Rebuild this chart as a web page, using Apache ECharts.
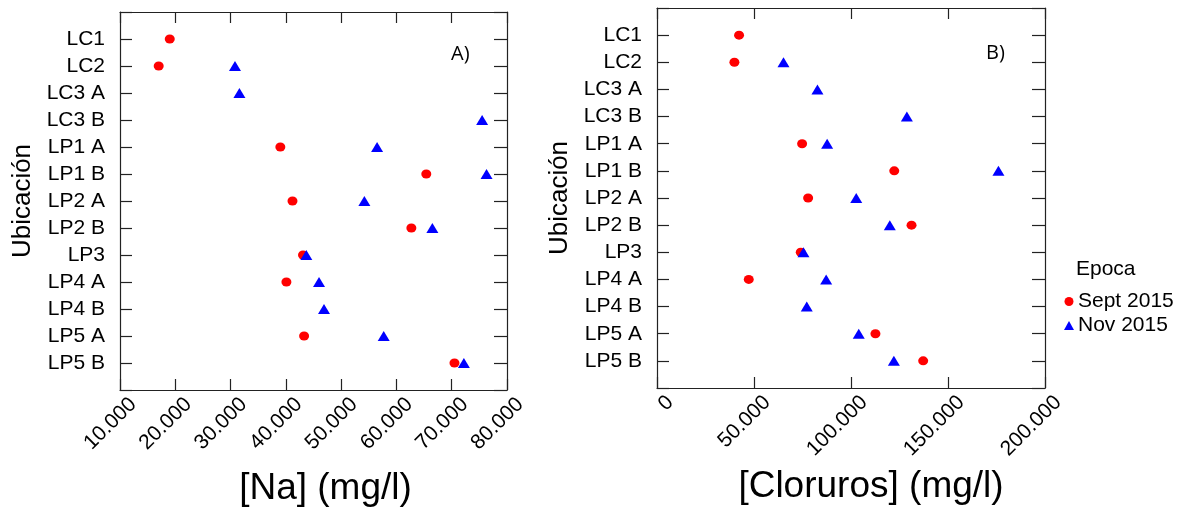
<!DOCTYPE html>
<html>
<head>
<meta charset="utf-8">
<script src="https://cdn.jsdelivr.net/npm/echarts@6/dist/echarts.min.js"></script>
<style>
html,body{margin:0;padding:0;background:#fff;}
#chart{width:1195px;height:516px;}
</style>
</head>
<body>
<div id="chart"></div>
<script>
const categories = ['LC1','LC2','LC3 A','LC3 B','LP1 A','LP1 B','LP2 A','LP2 B','LP3','LP4 A','LP4 B','LP5 A','LP5 B'];
const naSept = [19000, 17000, null, null, 39000, 65400, 41200, 62700, 43100, 40100, null, 43300, 70500];
const naNov  = [null, 30800, 31600, 75500, 56500, 76300, 54200, 66500, 43700, 46000, 46900, 57700, 72200];
const clSept = [42300, 39900, null, null, 74800, 122300, 77900, 131200, 74100, 47300, null, 112600, 137200];
const clNov  = [null, 65200, 82700, 128800, 87700, 176000, 102700, 120000, 75500, 87200, 77200, 104000, 122100];
const seriesNames = ['Sept 2015', 'Nov 2015'];
const xTitles = ['[Na] (mg/l)', '[Cloruros] (mg/l)'];
const yTitle = 'Ubicación';
const panelTags = ['A)', 'B)'];
const legendTitle = 'Epoca';

const yCats = [''].concat(categories).concat([' ']);
const FONT = 'Liberation Sans, Arial, sans-serif';
const LINE = {onZero:false, lineStyle:{color:'#222', width:1.2}};

function pts(arr){ const out=[]; arr.forEach((v,i)=>{ if(v!==null) out.push([v, categories[i]]); }); return out; }
function xfmt(v){ return v === 0 ? '0' : (v/1000) + '.000'; }

function xAxes(gi, min, max, interval, name, padLeft){
  return [{
    type:'value', gridIndex:gi, position:'bottom', min:min, max:max, interval:interval,
    axisLine:Object.assign({show:true}, LINE), splitLine:{show:false},
    axisTick:{show:true, inside:true, length:11, lineStyle:{color:'#222', width:1.2}},
    axisLabel:{show:true, rotate:45, formatter:xfmt, color:'#000', fontFamily:FONT, fontSize:21,
      verticalAlign:'top', lineHeight:37, margin:-2},
    name:name, nameLocation:'middle', nameGap:80, nameMoveOverlap:false,
    nameTextStyle:{fontFamily:FONT, fontSize:37, color:'#000', padding:[0,0,0,padLeft]}
  },{
    type:'value', gridIndex:gi, position:'top', min:min, max:max, interval:interval,
    axisLine:Object.assign({show:true}, LINE), splitLine:{show:false},
    axisTick:{show:true, inside:true, length:11, lineStyle:{color:'#222', width:1.2}},
    axisLabel:{show:false}
  }];
}
function yAxes(gi){
  return [{
    type:'category', gridIndex:gi, data:yCats, boundaryGap:false, inverse:true, position:'left',
    axisLine:Object.assign({show:true}, LINE), splitLine:{show:false},
    axisTick:{show:true, inside:true, length:12, interval:0, lineStyle:{color:'#222', width:1.2}},
    axisLabel:{show:true, interval:0, color:'#000', fontFamily:FONT, fontSize:21, margin:15},
    name:yTitle, nameLocation:'middle', nameGap:84, nameMoveOverlap:false,
    nameTextStyle:{fontFamily:FONT, fontSize:26, color:'#000'}
  },{
    type:'category', gridIndex:gi, data:yCats, boundaryGap:false, inverse:true, position:'right',
    axisLine:Object.assign({show:true}, LINE), splitLine:{show:false},
    axisTick:{show:true, inside:true, length:13, interval:0, lineStyle:{color:'#222', width:1.2}},
    axisLabel:{show:false}
  }];
}
function scatter(name, data, xi, yi){
  const isSept = name === seriesNames[0];
  return {
    type:'scatter', name:name, xAxisIndex:xi, yAxisIndex:yi, data:pts(data),
    symbol: isSept ? 'circle' : 'triangle',
    symbolSize: isSept ? [10,9] : [12,10],
    itemStyle:{color: isSept ? '#ff0000' : '#0000ff', opacity:1},
    emphasis:{disabled:true}
  };
}

const chart = echarts.init(document.getElementById('chart'), null, {renderer:'canvas'});
chart.setOption({
  animation:false,
  backgroundColor:'#fff',
  grid:[
    {left:120, top:12, width:387, height:378, containLabel:false},
    {left:657, top:8, width:388, height:380, containLabel:false}
  ],
  xAxis: xAxes(0, 10000, 80000, 10000, xTitles[0], 24).concat(xAxes(1, 0, 200000, 50000, xTitles[1], 40)),
  yAxis: yAxes(0).concat(yAxes(1)),
  title:[
    {text:panelTags[0], left:451, top:44, padding:0, textStyle:{fontFamily:'Open Sans', fontSize:20, fontWeight:'normal', color:'#000'}},
    {text:panelTags[1], left:986, top:43, padding:0, textStyle:{fontFamily:'Open Sans', fontSize:20, fontWeight:'normal', color:'#000'}},
    {text:legendTitle, left:1076, top:259, padding:0, textStyle:{fontFamily:FONT, fontSize:21, fontWeight:'normal', color:'#000'}}
  ],
  legend:{
    orient:'vertical', left:1064, top:291, itemWidth:10, itemHeight:9, itemGap:3, padding:0,
    data:[{name:seriesNames[0], icon:'circle'},{name:seriesNames[1], icon:'triangle'}],
    textStyle:{fontFamily:FONT, fontSize:21, color:'#000', padding:[0,0,0,-1]}
  },
  series:[
    scatter(seriesNames[0], naSept, 0, 0),
    scatter(seriesNames[1], naNov, 0, 0),
    scatter(seriesNames[0], clSept, 2, 2),
    scatter(seriesNames[1], clNov, 2, 2)
  ]
});
</script>
</body>
</html>
